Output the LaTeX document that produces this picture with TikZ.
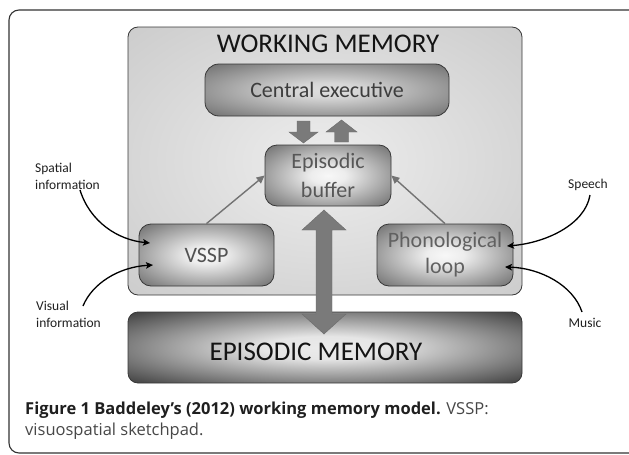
\documentclass[tikz,border=0pt]{standalone}
\usepackage{fontspec}
\setmainfont{Carlito}
\newfontfamily\capfont{Open Sans}
\usetikzlibrary{arrows.meta}
\pgfdeclareradialshading{wmsh}{\pgfpoint{0bp}{0bp}}{rgb(0bp)=(0.93,0.93,0.93); rgb(36bp)=(0.80,0.80,0.80); rgb(50bp)=(0.74,0.74,0.74)}
\pgfdeclareradialshading{cesh}{\pgfpoint{0bp}{0bp}}{rgb(0bp)=(0.87,0.87,0.87); rgb(7bp)=(0.84,0.84,0.84); rgb(36bp)=(0.43,0.43,0.43); rgb(50bp)=(0.38,0.38,0.38)}
\pgfdeclareradialshading{smsh}{\pgfpoint{0bp}{0bp}}{rgb(0bp)=(0.97,0.97,0.97); rgb(7bp)=(0.93,0.93,0.93); rgb(36bp)=(0.42,0.42,0.42); rgb(50bp)=(0.36,0.36,0.36)}
\pgfdeclareradialshading{emsh}{\pgfpoint{0bp}{0bp}}{rgb(0bp)=(0.92,0.92,0.92); rgb(8bp)=(0.90,0.90,0.90); rgb(34bp)=(0.28,0.28,0.28); rgb(50bp)=(0.23,0.23,0.23)}
\begin{document}
\begin{tikzpicture}[x=1pt,y=-1pt,
  box/.style={draw=black!78, line width=0.8pt, rounded corners=11pt, inner sep=0pt, shade},
  boxtext/.style={font=\fontsize{22}{28}\selectfont, align=center},
  lbl/.style={font=\fontsize{13.5}{17}\selectfont, align=left, inner sep=0pt, text=black!88},
  blockarrow/.style={fill=black!52, draw=black!58, line width=0.4pt},
  feed/.style={draw=black!55, line width=1.4pt, -{Triangle[length=8pt,width=7.5pt]}},
  inarrow/.style={draw=black, line width=1.3pt, -{Stealth[length=7pt,width=6.5pt,inset=1.5pt]}}
]
\useasboundingbox (0,0) rectangle (629,455);
\clip (0,0) rectangle (629,455);
% outer frame (open to the right)
\draw[line width=1.1pt, black!80, rounded corners=10pt] (660,10) -- (9,10) -- (9,453) -- (660,453);
% working memory box
\node[box, shading=wmsh, minimum width=394pt, minimum height=268pt, rounded corners=10pt] (wm) at (325,161) {};
\node[font=\fontsize{27}{32}\selectfont, text=black!92, inner sep=0pt] (title) at (328,44) {WORKING MEMORY};
% central executive
\node[box, shading=cesh, minimum width=244pt, minimum height=52pt, rounded corners=14pt, boxtext, text=black!76] (ce) at (327,90) {Central executive};
% episodic buffer
\node[box, shading=smsh, minimum width=126pt, minimum height=61pt, rounded corners=12pt, boxtext, font=\fontsize{22}{29}\selectfont, text=black!66] (buf) at (328,175.5) {Episodic\\buffer};
% VSSP
\node[box, shading=smsh, minimum width=135pt, minimum height=62pt, rounded corners=12pt, boxtext, text=black!68] (vssp) at (206.5,255) {VSSP};
% phonological loop
\node[box, shading=smsh, minimum width=136pt, minimum height=62pt, rounded corners=12pt, boxtext, font=\fontsize{22}{26}\selectfont, text=black!62] (pl) at (445,255) {Phonological\\loop};
% episodic memory
\node[box, shading=emsh, minimum width=394pt, minimum height=71pt, rounded corners=10pt,
  label={[font=\fontsize{27}{32}\selectfont, text=black!92, inner sep=0pt, xshift=-9pt, yshift=-4.5pt]center:EPISODIC MEMORY}] (em) at (325,347.5) {};
% small block arrows between central executive and buffer
\path[blockarrow] (297,121) -- (310,121) -- (310,132) -- (318,132) -- (303.5,143) -- (289,132) -- (297,132) -- cycle;
\path[blockarrow] (334.5,142) -- (348.5,142) -- (348.5,132) -- (357,132) -- (341.5,120) -- (326,132) -- (334.5,132) -- cycle;
% big double arrow between buffer and episodic memory
\path[blockarrow] (324,210) -- (346,230) -- (332,230) -- (332,314) -- (346,314) -- (324,334) -- (302,314) -- (316,314) -- (316,230) -- (302,230) -- cycle;
% feeds into buffer
\draw[feed] (vssp.north) -- (buf.west);
\draw[feed] (pl.north) -- (buf.east);
% labels
\node[lbl, anchor=west] (spat) at (35,176) {Spatial\\information};
\node[lbl, anchor=west] (vis) at (36,314) {Visual\\information};
\node[lbl] (speech) at (588,185) {Speech};
\node[lbl] (music) at (585,323) {Music};
\coordinate (spatstart) at (80,190);
\coordinate (visstart) at (83,306);
\coordinate (spstart) at (590,195);
\coordinate (mustart) at (582,312);
\coordinate (spatend) at (150,243);
\coordinate (visend) at (153,265);
\coordinate (spend) at (507,246);
\coordinate (muend) at (505,267);
\draw[inarrow] (spatstart) .. controls +(10,32) and +(-32,-3) .. (spatend);
\draw[inarrow] (visstart) .. controls +(9,-22) and +(-35,2) .. (visend);
\draw[inarrow] (spstart) .. controls +(-5,30) and +(38,-3) .. (spend);
\draw[inarrow] (mustart) .. controls +(-9,-27) and +(35,1) .. (muend);
% caption
\node[anchor=base west, inner sep=0pt, font=\capfont\fontsize{16.5}{20}\selectfont, text=black!88] (cap1) at (25,414) {\textbf{Figure 1 Baddeley’s (2012) working memory model.} {\color{black!72}VSSP:}};
\node[anchor=base west, inner sep=0pt, font=\capfont\fontsize{16.5}{20}\selectfont, text=black!72] (cap2) at (25,435) {visuospatial sketchpad.};
\end{tikzpicture}
\end{document}
